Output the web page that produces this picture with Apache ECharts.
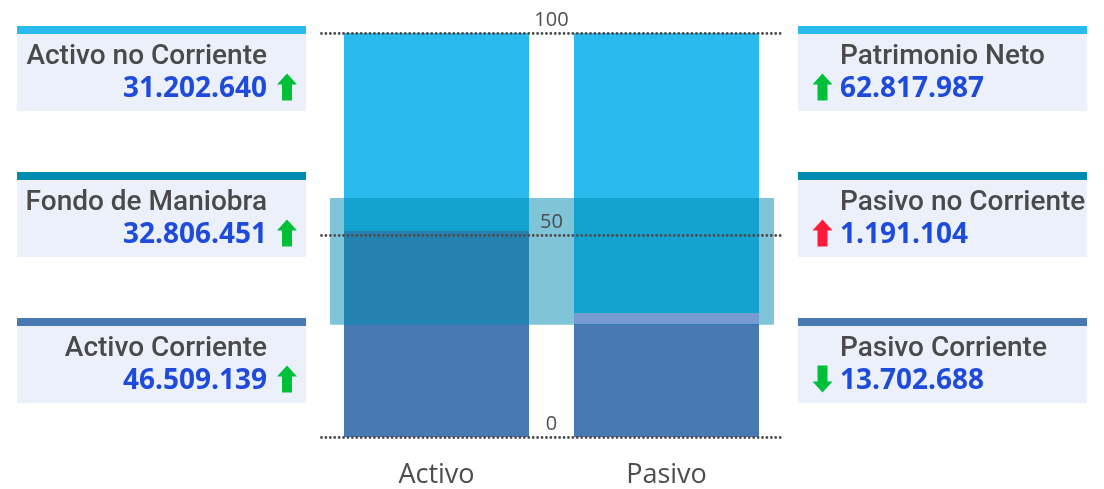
<!DOCTYPE html>
<html>
<head>
<meta charset="utf-8">
<script src="https://cdn.jsdelivr.net/npm/echarts@6/dist/echarts.min.js"></script>
<style>
  html, body { margin: 0; padding: 0; background: #fff; }
  #chart { width: 1104px; height: 489px; }
</style>
</head>
<body>
<div id="chart"></div>
<script>
// bar heights, percent of the total
const categories = ['Activo', 'Pasivo'];
const corriente = [51.0, 28.0];          // Activo Corriente / Pasivo Corriente
const pasivoNoCorriente = [0, 2.7];      // only on Pasivo
const noCorriente = [49.0, 69.3];        // Activo no Corriente / Patrimonio Neto
const fondoManiobra = [27.85, 59.2];     // band from .. to
const yTicks = [0, 50, 100];

// side cards
const leftTitles = ['Activo no Corriente', 'Fondo de Maniobra', 'Activo Corriente'];
const leftValues = ['31.202.640', '32.806.451', '46.509.139'];
const leftTrends = ['up', 'up', 'up'];
const rightTitles = ['Patrimonio Neto', 'Pasivo no Corriente', 'Pasivo Corriente'];
const rightValues = ['62.817.987', '1.191.104', '13.702.688'];
const rightTrends = ['up', 'upBad', 'down'];

const C_LIGHT = '#29BBEE';
const C_DARK = '#4879B3';
const C_TEAL = '#008BB0';
const C_PURPLE = '#759BD0';
const headerColors = [C_LIGHT, C_TEAL, C_DARK];
const cardTops = [26, 172, 318];
const FONT = '"Open Sans", "Noto Sans", sans-serif';
const TITLE_FONT = 'Roboto, "Open Sans", sans-serif';

function arrow(cx, cy, trend) {
    const dir = trend === 'down' ? -1 : 1;
    const color = trend === 'upBad' ? '#FF1A3A' : '#00C03A';
    const h = 13.5, head = 11;
    const pts = [
        [cx, cy - dir * h],
        [cx + 10, cy - dir * (h - head)],
        [cx + 5, cy - dir * (h - head)],
        [cx + 5, cy + dir * h],
        [cx - 5, cy + dir * h],
        [cx - 5, cy - dir * (h - head)],
        [cx - 10, cy - dir * (h - head)]
    ];
    return { type: 'polygon', shape: { points: pts }, style: { fill: color } };
}

function cards(x, titles, values, trends, alignRight) {
    const els = [];
    for (let i = 0; i < titles.length; i++) {
        const top = cardTops[i];
        els.push({ type: 'rect', shape: { x: x, y: top, width: 289, height: 8 }, style: { fill: headerColors[i] } });
        els.push({ type: 'rect', shape: { x: x, y: top + 8, width: 289, height: 77 }, style: { fill: '#ECF0FA' } });
        const tx = alignRight ? x + 250 : x + 42;
        const align = alignRight ? 'right' : 'left';
        els.push({
            type: 'text', x: tx, y: top + 31,
            style: { text: titles[i], fill: '#4A4A4A', font: '500 28px ' + TITLE_FONT, textAlign: align, textVerticalAlign: 'middle' }
        });
        els.push({
            type: 'text', x: tx, y: top + 63,
            style: { text: values[i], fill: '#1E4BDB', font: 'bold 28px ' + FONT, textAlign: align, textVerticalAlign: 'middle' }
        });
        els.push(arrow(alignRight ? x + 270 : x + 24.5, top + 61, trends[i]));
    }
    return els;
}

const chart = echarts.init(document.getElementById('chart'));

const option = {
    animation: false,
    grid: [
        { left: 321.5, width: 460, top: 33, bottom: 51.7 },
        { left: 330, width: 444, top: 33, bottom: 51.7 }
    ],
    xAxis: [
        {
            type: 'category', data: categories, gridIndex: 0,
            axisLine: { show: false }, axisTick: { show: false },
            axisLabel: { color: '#4D4D4D', fontSize: 27, fontFamily: FONT, margin: 25 }
        },
        { type: 'category', data: [''], gridIndex: 1, show: false }
    ],
    yAxis: [
        { type: 'value', min: 0, max: 100, gridIndex: 0, show: false },
        { type: 'value', min: 0, max: 100, gridIndex: 1, show: false }
    ],
    series: [
        {
            name: 'Corriente', type: 'bar', stack: 'total', barWidth: 185,
            data: corriente, itemStyle: { color: C_DARK },
            markLine: {
                silent: true, symbol: 'none',
                lineStyle: { color: '#4D4D4D', type: [0.01, 4.4], cap: 'round', width: 2.8 },
                label: {
                    position: 'middle', formatter: '{c}', color: '#4D4D4D',
                    fontSize: 20, fontFamily: FONT, distance: 3
                },
                data: yTicks.map(v => ({ yAxis: v }))
            }
        },
        {
            name: 'Pasivo no Corriente', type: 'bar', stack: 'total', barWidth: 185, z: 4,
            data: pasivoNoCorriente, itemStyle: { color: C_PURPLE }
        },
        {
            name: 'No Corriente', type: 'bar', stack: 'total', barWidth: 185,
            data: noCorriente, itemStyle: { color: C_LIGHT }
        },
        {
            name: 'base', type: 'bar', stack: 'fm', xAxisIndex: 1, yAxisIndex: 1, barWidth: '100%',
            data: [fondoManiobra[0]], itemStyle: { color: 'transparent' }, silent: true
        },
        {
            name: 'Fondo de Maniobra', type: 'bar', stack: 'fm', xAxisIndex: 1, yAxisIndex: 1, barWidth: '100%', z: 3,
            data: [fondoManiobra[1] - fondoManiobra[0]], itemStyle: { color: 'rgba(0,139,176,0.5)' }
        }
    ],
    graphic: [].concat(
        cards(17, leftTitles, leftValues, leftTrends, true),
        cards(798, rightTitles, rightValues, rightTrends, false)
    )
};

chart.setOption(option);
</script>
</body>
</html>
